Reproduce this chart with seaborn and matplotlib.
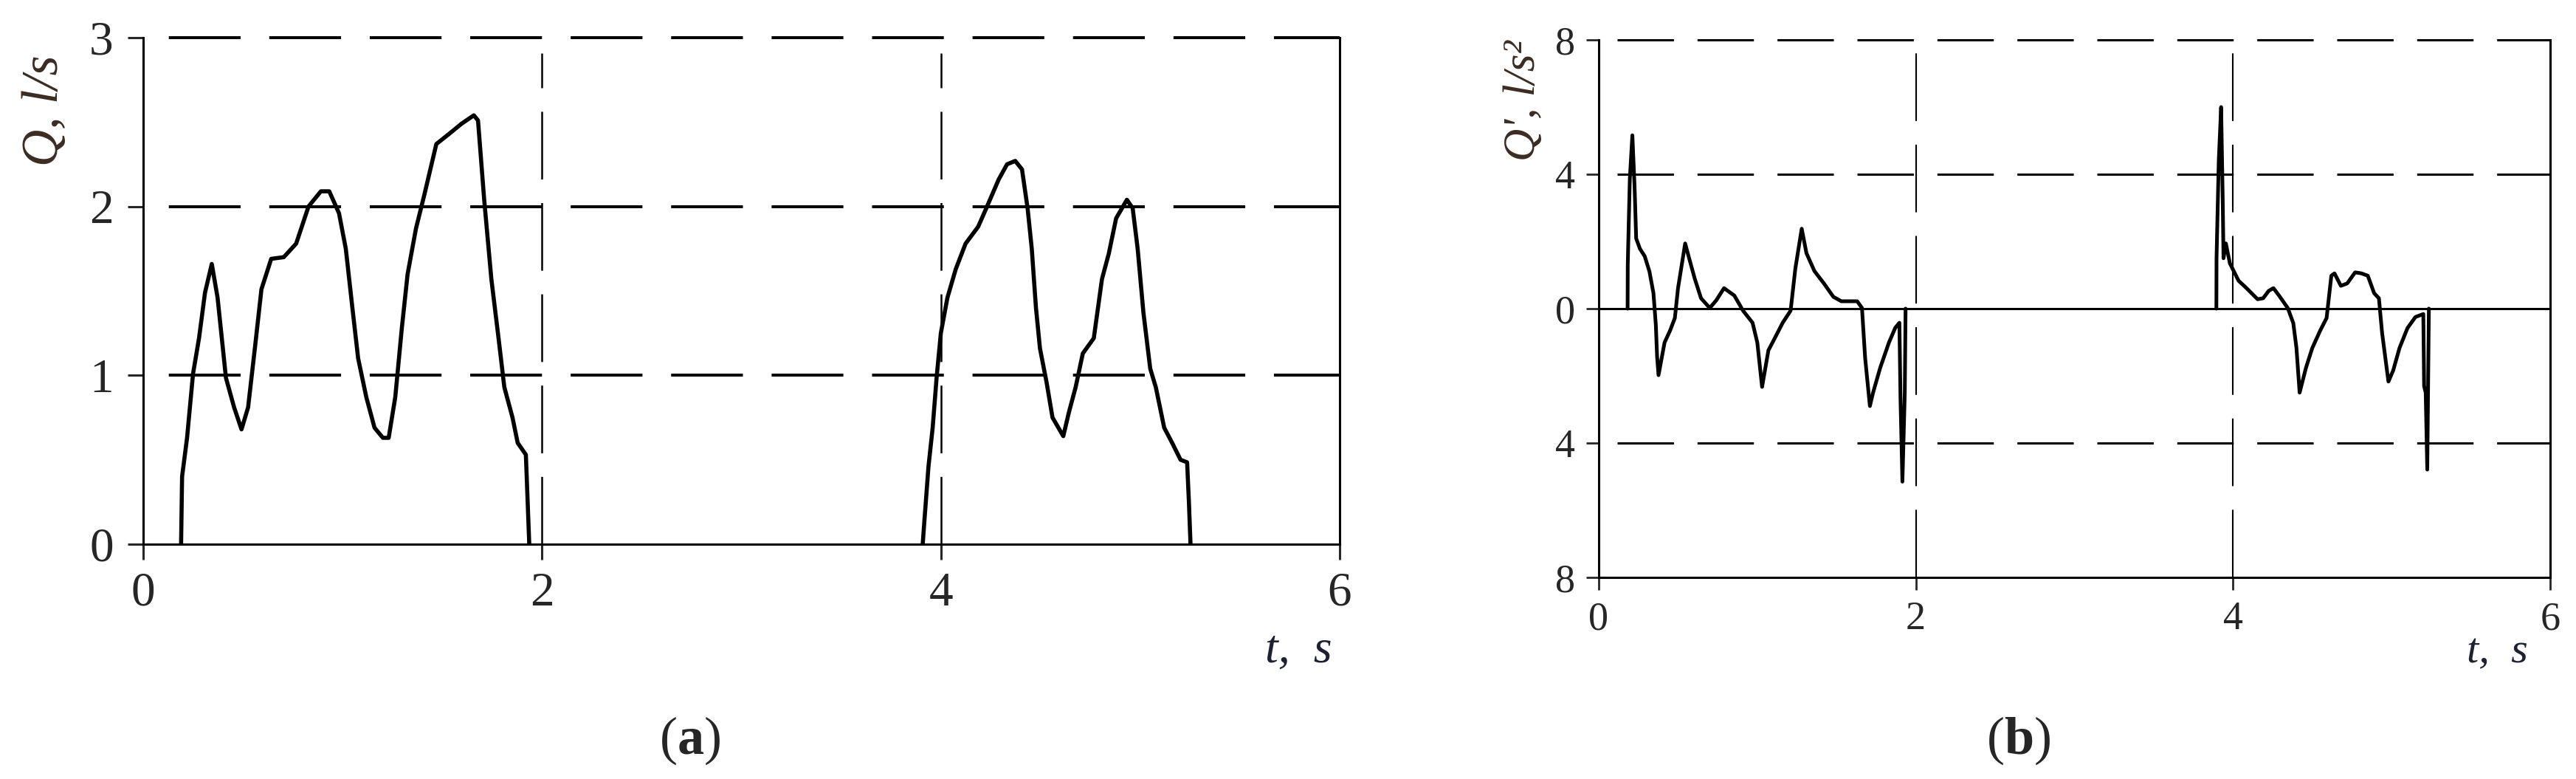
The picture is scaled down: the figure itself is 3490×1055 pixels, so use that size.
import matplotlib
matplotlib.use("Agg")
import matplotlib.pyplot as plt
import pandas as pd
import seaborn as sns

# flow rate Q, l/s  (panel a)
t_q = [0.19, 0.195, 0.22, 0.25, 0.28, 0.31, 0.344, 0.373, 0.415,
       0.456, 0.493, 0.526, 0.56, 0.593, 0.642, 0.705, 0.767, 0.829, 0.891,
       0.933, 0.982, 1.016, 1.049, 1.078, 1.119, 1.16, 1.202, 1.231, 1.264,
       1.297, 1.326, 1.368, 1.41, 1.47, 1.534, 1.596, 1.658, 1.679, 1.71,
       1.746, 1.782, 1.811, 1.852, 1.878, 1.919, 1.928, 1.936, 3.909, 3.917,
       3.938, 3.959, 3.979, 4.0, 4.033, 4.075, 4.124, 4.187, 4.228, 4.29,
       4.332, 4.373, 4.407, 4.435, 4.456, 4.477, 4.497, 4.53, 4.56, 4.614,
       4.642, 4.676, 4.712, 4.767, 4.808, 4.842, 4.879, 4.933, 4.962, 4.987,
       5.016, 5.05, 5.078, 5.12, 5.16, 5.202, 5.235, 5.244, 5.252]
q = [0, 0.40, 0.63, 1.01, 1.22, 1.49, 1.66, 1.46, 0.985,
     0.81, 0.68, 0.81, 1.16, 1.51, 1.69, 1.70, 1.78, 2.0, 2.09,
     2.09, 1.96, 1.75, 1.40, 1.10, 0.87, 0.69, 0.63, 0.63, 0.87,
     1.28, 1.60, 1.87, 2.07, 2.37, 2.43, 2.49, 2.54, 2.51, 2.04,
     1.57, 1.22, 0.93, 0.75, 0.60, 0.53, 0.25, 0, 0, 0.13,
     0.46, 0.69, 0.99, 1.25, 1.46, 1.63, 1.78, 1.88, 1.99, 2.16,
     2.25, 2.27, 2.22, 1.99, 1.75, 1.40, 1.16, 0.96, 0.75, 0.64,
     0.78, 0.93, 1.13, 1.22, 1.57, 1.72, 1.93, 2.04, 1.99, 1.75,
     1.37, 1.04, 0.93, 0.69, 0.60, 0.50, 0.485, 0.25, 0]

# derivative Q', l/s^2  (panel b)
t_dq = [0.182, 0.183, 0.196, 0.212, 0.226, 0.236, 0.26, 0.29, 0.32,
        0.345, 0.36, 0.368, 0.377, 0.415, 0.45, 0.48, 0.50, 0.545, 0.57,
        0.605, 0.645, 0.70, 0.74, 0.79, 0.855, 0.91, 0.97, 1.0, 1.03,
        1.07, 1.11, 1.16, 1.21, 1.24, 1.28, 1.31, 1.36, 1.42, 1.48,
        1.53, 1.63, 1.66, 1.68, 1.71, 1.73, 1.775, 1.83, 1.87, 1.896,
        1.903, 1.915, 1.93, 1.935, 3.895, 3.896, 3.91, 3.925, 3.935, 3.94,
        3.955, 3.98, 4.035, 4.085, 4.155, 4.19, 4.225, 4.255, 4.29, 4.345,
        4.38, 4.40, 4.42, 4.46, 4.50, 4.55, 4.59, 4.62, 4.64, 4.68,
        4.72, 4.77, 4.81, 4.85, 4.89, 4.92, 4.94, 4.98, 5.01, 5.05,
        5.10, 5.15, 5.20, 5.205, 5.215, 5.225, 5.23, 5.235]
dq = [0, 1.32, 3.87, 5.16, 3.63, 2.09, 1.78, 1.56, 1.10,
      0.46, -0.48, -1.43, -1.98, -1.01, -0.65, -0.28, 0.61, 1.94, 1.50,
      0.90, 0.31, 0.02, 0.24, 0.61, 0.39, -0.06, -0.42, -1.01, -2.33,
      -1.24, -0.88, -0.42, -0.06, 1.20, 2.38, 1.65, 1.12, 0.75, 0.35,
      0.22, 0.22, 0.02, -1.47, -2.90, -2.50, -1.76, -1.01, -0.57, -0.42,
      -2.7, -5.15, -2.5, 0, 0, 1.5, 4.4, 6.0, 3.26, 1.5,
      1.94, 1.35, 0.83, 0.61, 0.28, 0.31, 0.53, 0.61, 0.39, 0.02,
      -0.43, -1.17, -2.50, -1.76, -1.17, -0.65, -0.28, 0.98, 1.05, 0.68,
      0.75, 1.08, 1.05, 0.98, 0.46, 0.31, -0.72, -2.17, -1.84, -1.17,
      -0.58, -0.25, -0.16, -2.3, -2.5, -4.79, -2.4, 0]

x_ticks = [0, 2, 4, 6]
q_ticks = [0, 1, 2, 3]
dq_ticks = [-8, -4, 0, 4, 8]
dq_ticklabels = ["8", "4", "0", "4", "8"]

# each pumping cycle drawn as its own line
df_q = pd.DataFrame({"t": t_q, "v": q})
df_q["cycle"] = (df_q["t"] > 3).astype(int)
df_dq = pd.DataFrame({"t": t_dq, "v": dq})
df_dq["cycle"] = (df_dq["t"] > 3).astype(int)

sns.set_style("white")
plt.rcParams['font.family'] = ['Liberation Serif', 'DejaVu Serif']
plt.rcParams['mathtext.fontset'] = 'custom'
plt.rcParams['mathtext.rm'] = 'Liberation Serif'
plt.rcParams['mathtext.it'] = 'Liberation Serif:italic'
plt.rcParams['mathtext.bf'] = 'Liberation Serif:bold'
plt.rcParams['lines.scale_dashes'] = False

W, H = 3491, 1055
fig = plt.figure(figsize=(W / 100, H / 100), dpi=100)


def box(l, t, r, b):
    return [l / W, 1 - b / H, (r - l) / W, (b - t) / H]


ax_a = fig.add_axes(box(194, 51, 1815, 737))
ax_b = fig.add_axes(box(2166, 54, 3455, 782))

label_col = '#3a2c22'

# ---- panel a
sns.lineplot(data=df_q, x="t", y="v", units="cycle", ax=ax_a, color='black',
             linewidth=4.0, estimator=None, sort=False)
ax_a.set_xlim(0, 6)
ax_a.set_ylim(0, 3)
for yv in [1, 2, 3]:
    ax_a.axhline(yv, color='black', lw=2.9, ls=(73, (70, 28)), clip_on=False, zorder=1)
for xv in [2, 4]:
    ax_a.axvline(xv, ymax=0.97, color='black', lw=1.8, ls=(0, (66, 23)), zorder=1)
ax_a.spines['top'].set_visible(False)
ax_a.set_xticks(x_ticks)
ax_a.set_yticks(q_ticks)
ax_a.tick_params(direction='out', length=15, width=2.2, labelsize=47,
                 pad=12, left=True, bottom=True)
ax_a.tick_params(axis='y', pad=14)

# ---- panel b
sns.lineplot(data=df_dq, x="t", y="v", units="cycle", ax=ax_b, color='black',
             linewidth=3.6, estimator=None, sort=False)
ax_b.set_xlim(0, 6)
ax_b.set_ylim(-8, 8)
for yv in [-4, 4, 8]:
    ax_b.axhline(yv, color='black', lw=2.2, ls=(60, (55, 23)), clip_on=False, zorder=1)
ax_b.axhline(0, color='black', lw=2.2, zorder=1)
for xv in [2, 4]:
    ax_b.axvline(xv, color='black', lw=1.5, ls=(0, (66, 23)), zorder=1)
ax_b.spines['top'].set_visible(False)
ax_b.set_xticks(x_ticks)
ax_b.set_yticks(dq_ticks)
ax_b.set_yticklabels(dq_ticklabels)
ax_b.tick_params(direction='out', length=12, width=2.0, labelsize=39,
                 pad=11, left=True, bottom=True)

for ax in (ax_a, ax_b):
    for s in ['left', 'bottom', 'right']:
        ax.spines[s].set_color('black')
        ax.spines[s].set_linewidth(2.2)
    ax.set_xlabel('')
    ax.set_ylabel('')

# axis titles
fig.text(61 / W, 1 - 150 / H, "Q, l/s", rotation=90, ha='center', va='center',
         fontsize=50, style='italic', color=label_col)
fig.text(2064 / W, 1 - 136 / H, "Q', l/s²", rotation=90, ha='center', va='center',
         fontsize=44, style='italic', color=label_col)
fig.text(1805 / W, 1 - 897 / H, "t,  s", ha='right', va='baseline',
         fontsize=46, style='italic', color='#1e2230')
fig.text(3425 / W, 1 - 897 / H, "t,  s", ha='right', va='baseline',
         fontsize=42, style='italic', color='#1e2230')

# captions
fig.text(935 / W, 1 - 1003 / H, r"($\mathbf{a}$)", ha='center', va='center', fontsize=52)
fig.text(2735 / W, 1 - 1003 / H, r"($\mathbf{b}$)", ha='center', va='center', fontsize=52)

fig.savefig("out.png", dpi=100)
